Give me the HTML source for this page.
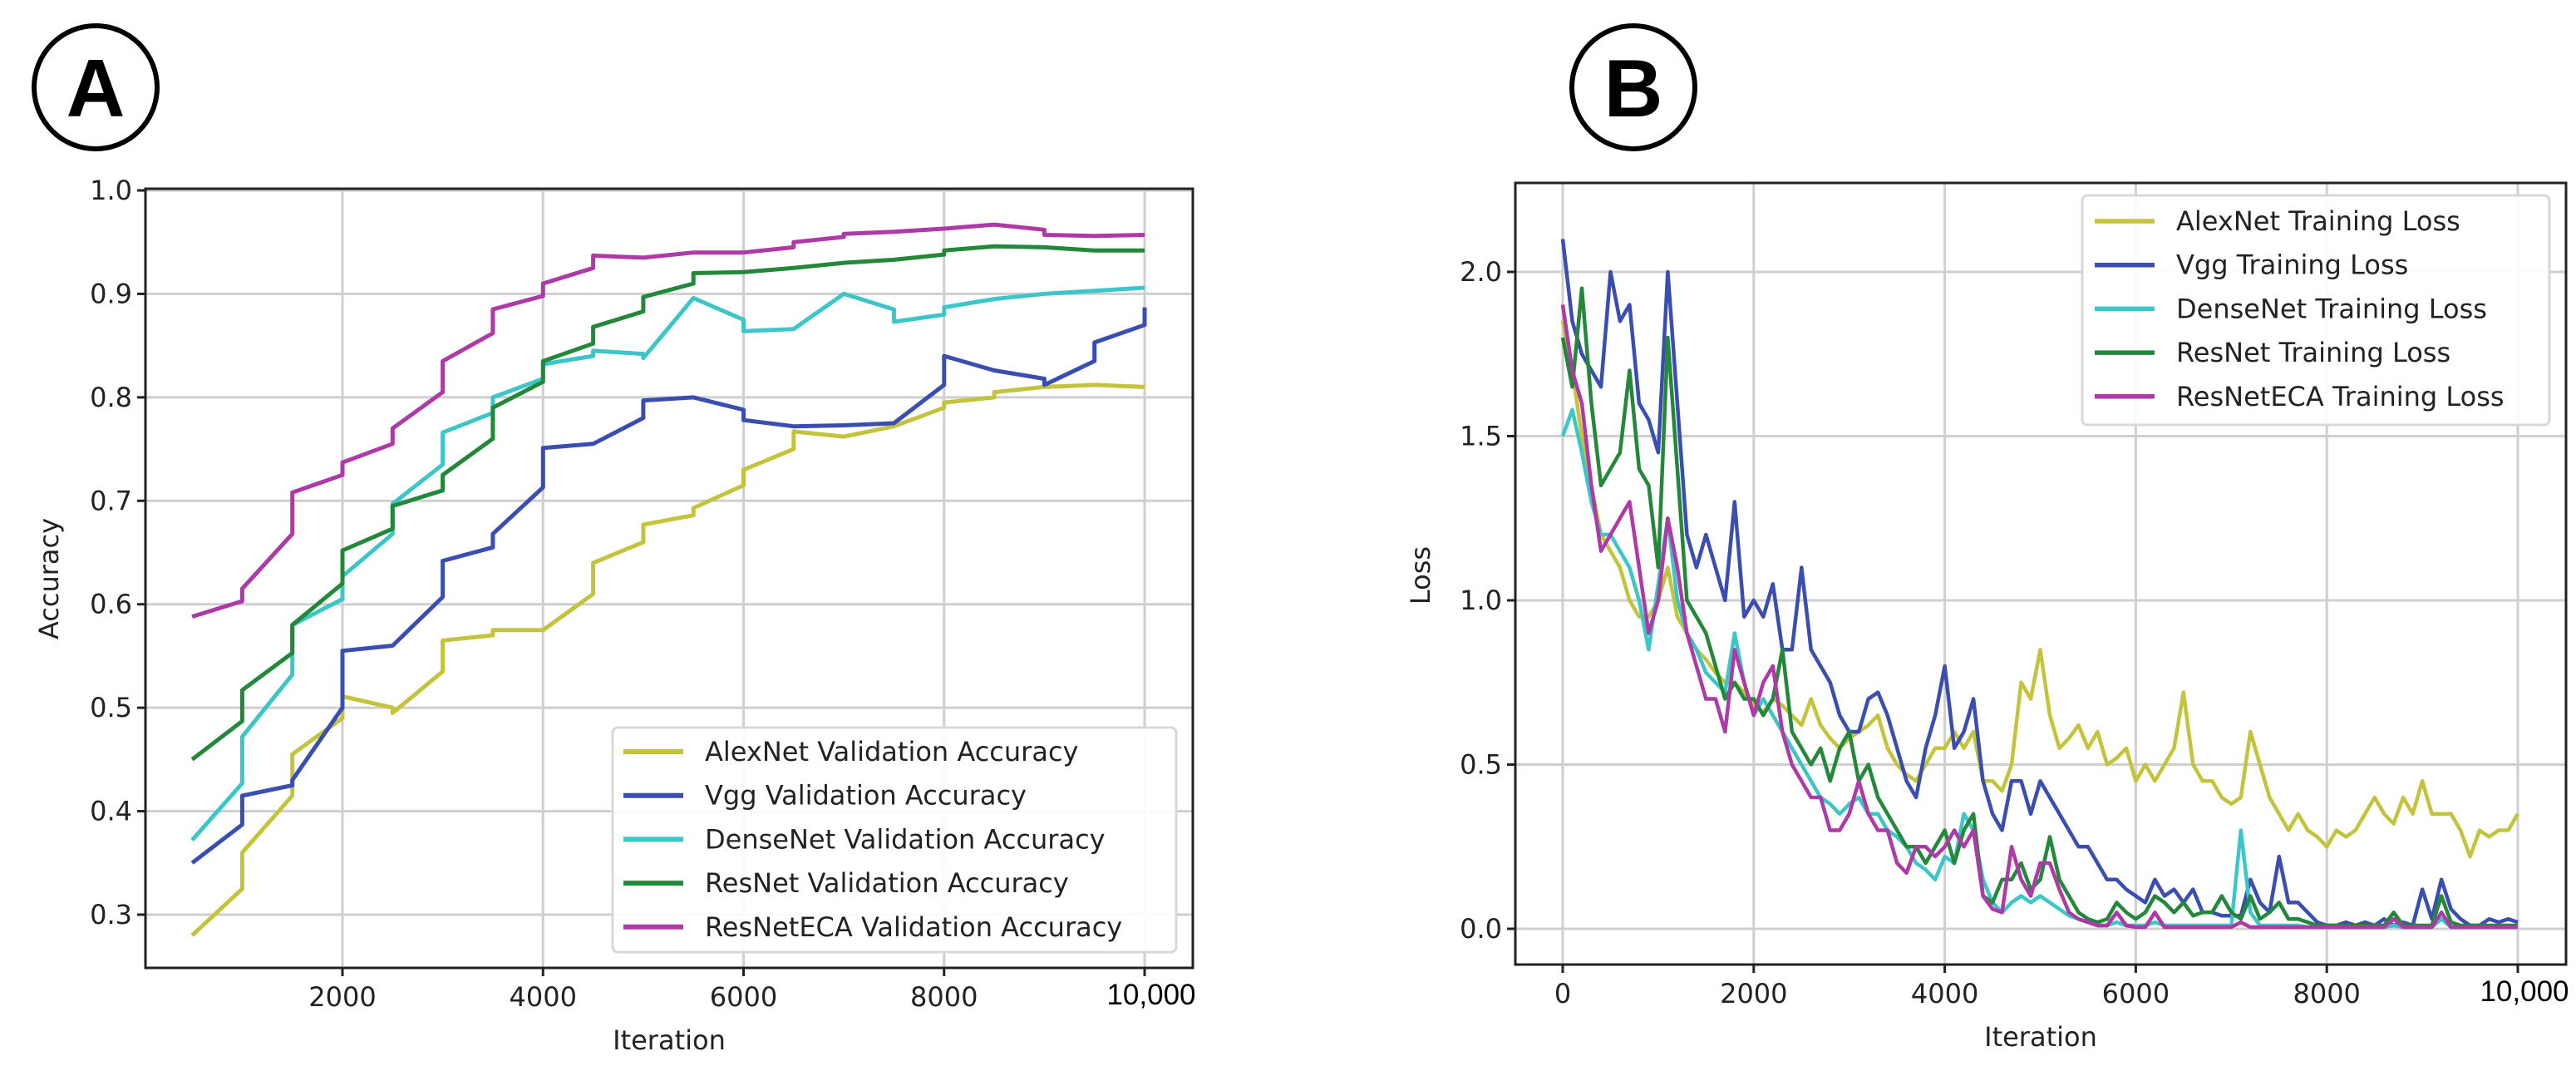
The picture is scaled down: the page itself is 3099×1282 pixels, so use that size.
<!DOCTYPE html>
<html><head><meta charset="utf-8"><style>
html,body{margin:0;padding:0;background:#fff;overflow:hidden;}
svg text{font-family:"DejaVu Sans","Liberation Sans",sans-serif;fill:#222;}
</style></head><body>
<svg id="fig" width="3099" height="1277" viewBox="0 0 3099 1277" xmlns="http://www.w3.org/2000/svg">
<rect width="3099" height="1277" fill="#fff"/>
<g><circle cx="115" cy="105" r="74" fill="none" stroke="#000" stroke-width="6"/><text x="115" y="140" text-anchor="middle" style="font-family:'Liberation Sans',sans-serif;font-weight:bold;font-size:98px;fill:#000">A</text></g>
<g><circle cx="1965" cy="105" r="74" fill="none" stroke="#000" stroke-width="6"/><text x="1965" y="140" text-anchor="middle" style="font-family:'Liberation Sans',sans-serif;font-weight:bold;font-size:98px;fill:#000">B</text></g>
<g id="chartA"></g>
<g id="chartB"></g>
</svg>
<script>
const NS="http://www.w3.org/2000/svg";
const seriesNames=["AlexNet","Vgg","DenseNet","ResNet","ResNetECA"];
const seriesColors=["#c4c43c","#3a4db0","#3cc6c8","#23883a","#ad3aa6"];
// Chart A data (repeated x = vertical step)
const accIter=[500,1000,1000,1500,1500,2000,2000,2500,2500,3000,3000,3500,3500,4000,4000,4500,4500,5000,5000,5500,5500,6000,6000,6500,6500,7000,7000,7500,7500,8000,8000,8500,8500,9000,9000,9500,9500,10000,10000];
const accAlex=[0.28,0.325,0.36,0.415,0.455,0.49,0.511,0.5,0.495,0.535,0.565,0.57,0.575,0.575,0.575,0.61,0.64,0.66,0.677,0.686,0.693,0.715,0.73,0.75,0.767,0.762,0.762,0.772,0.772,0.79,0.795,0.8,0.805,0.81,0.81,0.812,0.812,0.81,0.81];
const accVgg=[0.35,0.387,0.415,0.425,0.43,0.5,0.555,0.56,0.56,0.607,0.642,0.655,0.668,0.713,0.751,0.755,0.755,0.78,0.797,0.8,0.8,0.788,0.778,0.772,0.772,0.773,0.773,0.775,0.775,0.812,0.84,0.826,0.826,0.818,0.812,0.835,0.853,0.87,0.887];
const accDense=[0.372,0.427,0.472,0.532,0.58,0.605,0.627,0.668,0.697,0.735,0.766,0.785,0.8,0.818,0.832,0.84,0.845,0.842,0.838,0.896,0.896,0.875,0.864,0.866,0.866,0.9,0.9,0.885,0.873,0.88,0.887,0.895,0.895,0.9,0.9,0.903,0.903,0.906,0.906];
const accRes=[0.45,0.487,0.517,0.553,0.58,0.62,0.652,0.673,0.695,0.71,0.725,0.76,0.79,0.815,0.835,0.852,0.868,0.883,0.897,0.91,0.92,0.921,0.921,0.925,0.925,0.93,0.93,0.933,0.933,0.938,0.942,0.946,0.946,0.945,0.945,0.942,0.942,0.942,0.942];
const accEca=[0.588,0.603,0.615,0.668,0.708,0.725,0.737,0.755,0.77,0.805,0.835,0.862,0.885,0.898,0.91,0.925,0.937,0.935,0.935,0.94,0.94,0.94,0.94,0.945,0.95,0.955,0.958,0.96,0.96,0.963,0.963,0.967,0.967,0.962,0.957,0.956,0.956,0.957,0.957];
const accYTicks=[0.3,0.4,0.5,0.6,0.7,0.8,0.9,1.0];
const accXTicks=[2000,4000,6000,8000];
// Chart B data, every 100 iterations
const lossIter=Array.from({length:101},(_,i)=>i*100);
const lossAlex=[1.85,1.7,1.5,1.35,1.2,1.15,1.1,1.0,0.95,0.95,1.0,1.1,0.95,0.9,0.85,0.82,0.78,0.75,0.75,0.72,0.68,0.66,0.7,0.68,0.65,0.62,0.7,0.62,0.58,0.55,0.58,0.6,0.62,0.65,0.55,0.5,0.47,0.45,0.5,0.55,0.55,0.6,0.55,0.6,0.45,0.45,0.42,0.5,0.75,0.7,0.85,0.65,0.55,0.58,0.62,0.55,0.6,0.5,0.52,0.55,0.45,0.5,0.45,0.5,0.55,0.72,0.5,0.45,0.45,0.4,0.38,0.4,0.6,0.5,0.4,0.35,0.3,0.35,0.3,0.28,0.25,0.3,0.28,0.3,0.35,0.4,0.35,0.32,0.4,0.35,0.45,0.35,0.35,0.35,0.3,0.22,0.3,0.28,0.3,0.3,0.35];
const lossVgg=[2.1,1.85,1.75,1.7,1.65,2.0,1.85,1.9,1.6,1.55,1.45,2.0,1.6,1.2,1.1,1.2,1.1,1.0,1.3,0.95,1.0,0.95,1.05,0.85,0.85,1.1,0.85,0.8,0.75,0.65,0.6,0.6,0.7,0.72,0.65,0.55,0.45,0.4,0.55,0.65,0.8,0.55,0.6,0.7,0.45,0.35,0.3,0.45,0.45,0.35,0.45,0.4,0.35,0.3,0.25,0.25,0.2,0.15,0.15,0.12,0.1,0.08,0.15,0.1,0.12,0.08,0.12,0.05,0.05,0.04,0.04,0.04,0.15,0.08,0.05,0.22,0.08,0.08,0.05,0.02,0.01,0.01,0.02,0.01,0.02,0.01,0.03,0.01,0.02,0.01,0.12,0.03,0.15,0.06,0.03,0.01,0.01,0.03,0.02,0.03,0.02];
const lossDense=[1.5,1.58,1.45,1.3,1.2,1.2,1.15,1.1,1.0,0.85,1.05,1.25,1.0,0.9,0.85,0.78,0.75,0.72,0.9,0.75,0.65,0.7,0.65,0.6,0.55,0.5,0.45,0.4,0.38,0.35,0.38,0.4,0.35,0.35,0.3,0.28,0.25,0.2,0.18,0.15,0.22,0.2,0.35,0.3,0.15,0.08,0.05,0.08,0.1,0.08,0.1,0.08,0.06,0.04,0.03,0.02,0.01,0.01,0.02,0.01,0.01,0.01,0.02,0.01,0.01,0.01,0.01,0.01,0.01,0.01,0.01,0.3,0.05,0.01,0.01,0.01,0.01,0.01,0.005,0.005,0.005,0.005,0.005,0.005,0.005,0.005,0.005,0.01,0.005,0.005,0.005,0.005,0.03,0.005,0.005,0.005,0.005,0.005,0.005,0.005,0.005];
const lossRes=[1.8,1.65,1.95,1.6,1.35,1.4,1.45,1.7,1.4,1.35,1.1,1.8,1.4,1.0,0.95,0.9,0.8,0.7,0.75,0.7,0.7,0.65,0.7,0.85,0.6,0.55,0.5,0.55,0.45,0.55,0.6,0.45,0.5,0.4,0.35,0.3,0.25,0.25,0.2,0.25,0.3,0.2,0.3,0.35,0.1,0.08,0.15,0.15,0.2,0.12,0.15,0.28,0.15,0.1,0.05,0.03,0.02,0.03,0.08,0.05,0.03,0.05,0.1,0.08,0.05,0.08,0.04,0.05,0.05,0.1,0.05,0.03,0.1,0.03,0.05,0.08,0.03,0.03,0.02,0.01,0.01,0.01,0.01,0.01,0.01,0.01,0.01,0.05,0.01,0.01,0.01,0.01,0.1,0.02,0.01,0.01,0.01,0.01,0.01,0.01,0.01];
const lossEca=[1.9,1.7,1.6,1.35,1.15,1.2,1.25,1.3,1.1,0.9,1.0,1.25,1.1,0.9,0.8,0.7,0.7,0.6,0.85,0.75,0.65,0.75,0.8,0.6,0.5,0.45,0.4,0.4,0.3,0.3,0.35,0.45,0.35,0.3,0.3,0.2,0.17,0.25,0.25,0.22,0.25,0.3,0.25,0.3,0.1,0.06,0.05,0.25,0.15,0.1,0.2,0.2,0.12,0.05,0.03,0.02,0.01,0.01,0.05,0.01,0.005,0.005,0.05,0.005,0.005,0.005,0.005,0.005,0.005,0.005,0.005,0.02,0.005,0.005,0.005,0.005,0.005,0.005,0.005,0.005,0.005,0.005,0.005,0.005,0.005,0.005,0.005,0.03,0.005,0.005,0.005,0.005,0.05,0.005,0.005,0.005,0.005,0.005,0.005,0.005,0.005];
const lossYTicks=[0.0,0.5,1.0,1.5,2.0];
const lossXTicks=[0,2000,4000,6000,8000];

function mk(parent,tag,attrs,text){const e=document.createElementNS(NS,tag);for(const k in attrs)e.setAttribute(k,attrs[k]);if(text!==undefined)e.textContent=text;parent.appendChild(e);return e;}

function drawChart(g,cfg){
  const sx=v=>cfg.x0+(v-cfg.xmin)*(cfg.x1-cfg.x0)/(cfg.xmax-cfg.xmin);
  const sy=v=>cfg.y0+(v-cfg.ymin)*(cfg.y1-cfg.y0)/(cfg.ymax-cfg.ymin);
  const B=cfg.box, fs=32;
  cfg.yTicks.forEach(t=>{
    const l=mk(g,'line',{x1:B.l,x2:B.r,y1:sy(t),y2:sy(t),stroke:'#cfcfcf','stroke-width':3});
    
    
    const tk=mk(g,'line',{x1:B.l-10,x2:B.l,y1:sy(t),y2:sy(t),stroke:'#222','stroke-width':3});
    
    
    const tx=mk(g,'text',{x:B.l-16,y:sy(t)+11,'text-anchor':'end','font-size':fs},t.toFixed(1));
    
    
  });
  const xt=cfg.xTicks.concat([10000]);
  xt.forEach(t=>{
    const l=mk(g,'line',{x1:sx(t),x2:sx(t),y1:B.t,y2:B.b,stroke:'#cfcfcf','stroke-width':3});
    
    
    const tk=mk(g,'line',{x1:sx(t),x2:sx(t),y1:B.b,y2:B.b+10,stroke:'#222','stroke-width':3});
    
    
  });
  cfg.xTicks.forEach(t=>{
    const tx=mk(g,'text',{x:sx(t),y:B.b+46,'text-anchor':'middle','font-size':fs},String(t));
    
    
  });
  const ten=mk(g,'text',{x:sx(10000)+8,y:B.b+44,'text-anchor':'middle','font-size':35,style:"font-family:'Liberation Sans',sans-serif;fill:#000"},'10,000');
  
  
  cfg.series.forEach((s,i)=>{
    const d=cfg.xs.map((x,j)=>(j?'L':'M')+sx(x).toFixed(1)+' '+sy(s[j]).toFixed(1)).join(' ');
    const p=mk(g,'path',{d:d,fill:'none',stroke:seriesColors[i],'stroke-width':cfg.lw,'stroke-linejoin':'round'});
    
    
  });
  const fr=mk(g,'rect',{x:B.l,y:B.t,width:B.r-B.l,height:B.b-B.t,fill:'none',stroke:'#222','stroke-width':3});
  
  
  const xl=mk(g,'text',{x:cfg.xlab[0],y:cfg.xlab[1],'text-anchor':'middle','font-size':fs},'Iteration');
  
  
  const yl=mk(g,'text',{x:0,y:0,'text-anchor':'middle','font-size':fs,transform:`translate(${cfg.ylab[0]},${cfg.ylab[1]}) rotate(-90)`},cfg.ytitle);
  
  
  const L=cfg.leg;
  const lg=mk(g,'g',{});
  
  
  mk(lg,'rect',{x:L.x,y:L.y,width:L.w,height:L.h,rx:6,fill:'#fff','fill-opacity':0.9,stroke:'#d8d8d8','stroke-width':3});
  seriesNames.forEach((n,i)=>{
    const eg=mk(lg,'g',{});
    
    
    const yy=L.y0+i*L.sp;
    mk(eg,'line',{x1:L.lx,x2:L.lx+72,y1:yy,y2:yy,stroke:seriesColors[i],'stroke-width':cfg.lw+1});
    mk(eg,'text',{x:L.lx+98,y:yy+11,'font-size':fs},n+cfg.suffix);
  });
}
drawChart(document.getElementById('chartA'),{
  box:{l:175,r:1435,t:227,b:1164},x0:412,x1:1377,xmin:2000,xmax:10000,y0:1100,y1:229,ymin:0.3,ymax:1.0,
  xs:accIter,series:[accAlex,accVgg,accDense,accRes,accEca],yTicks:accYTicks,xTicks:accXTicks,lw:5,
  xlab:[805,1262],ylab:[70,696],ytitle:'Accuracy',suffix:' Validation Accuracy',
  leg:{x:737,y:875,w:678,h:270,y0:904,sp:52.7,lx:750}
});
drawChart(document.getElementById('chartB'),{
  box:{l:1823,r:3087,t:220,b:1160},x0:1880,x1:3029,xmin:0,xmax:10000,y0:1117,y1:327,ymin:0,ymax:2.0,
  xs:lossIter,series:[lossAlex,lossVgg,lossDense,lossRes,lossEca],yTicks:lossYTicks,xTicks:lossXTicks,lw:4.5,
  xlab:[2455,1258],ylab:[1720,692],ytitle:'Loss',suffix:' Training Loss',
  leg:{x:2505,y:235,w:562,h:276,y0:266,sp:52.7,lx:2520}
});
</script>
</body></html>
